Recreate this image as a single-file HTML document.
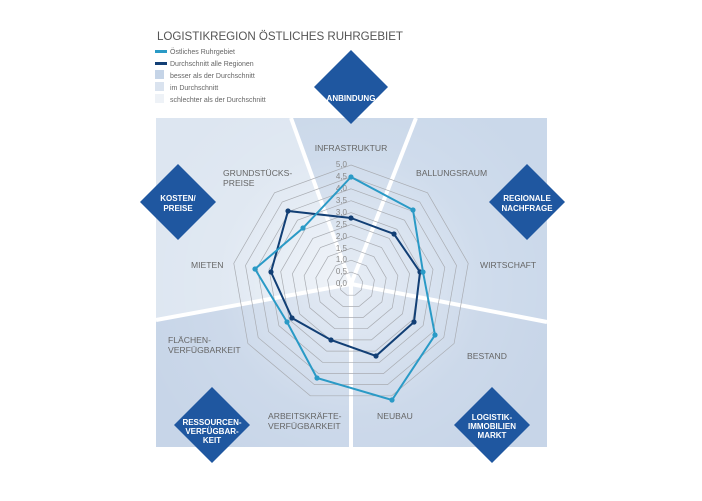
<!DOCTYPE html>
<html><head><meta charset="utf-8"><style>
body{margin:0;background:#fff;width:702px;height:496px;overflow:hidden;font-family:"Liberation Sans",sans-serif}
</style></head><body>
<svg id="s" width="702" height="496" viewBox="0 0 702 496" xmlns="http://www.w3.org/2000/svg" font-family="Liberation Sans, sans-serif">
<defs>
<radialGradient id="rg" cx="351" cy="284" r="220" gradientUnits="userSpaceOnUse">
<stop offset="0" stop-color="#fff" stop-opacity="0.55"/><stop offset="0.6" stop-color="#fff" stop-opacity="0.1"/><stop offset="1" stop-color="#fff" stop-opacity="0"/>
</radialGradient>
</defs>
<text x="157" y="40" font-size="11.6" fill="#555" textLength="246">LOGISTIKREGION ÖSTLICHES RUHRGEBIET</text>
<rect x="155" y="50" width="12" height="3" fill="#2a9ac6"/>
<rect x="155" y="62" width="12" height="3" fill="#123f75"/>
<rect x="155" y="70" width="9" height="9" fill="#c5d4e7"/>
<rect x="155" y="82" width="9" height="9" fill="#dae3ef"/>
<rect x="155" y="94" width="9" height="9" fill="#eef2f7"/>
<g font-size="7" fill="#666">
<text x="170" y="54">Östliches Ruhrgebiet</text>
<text x="170" y="66">Durchschnitt alle Regionen</text>
<text x="170" y="78">besser als der Durchschnitt</text>
<text x="170" y="90">im Durchschnitt</text>
<text x="170" y="102">schlechter als der Durchschnitt</text>
</g>
<polygon points="351,284 291,118 156,118 156,320" fill="#dde6f1"/>
<polygon points="351,284 291,118 416,118" fill="#c9d7e9"/>
<polygon points="351,284 416,118 547,118 547,322" fill="#cad8ea"/>
<polygon points="351,284 547,322 547,447 351,447" fill="#c7d5e8"/>
<polygon points="351,284 351,447 156,447 156,320" fill="#c7d5e8"/>
<rect x="156" y="118" width="391" height="329" fill="url(#rg)"/>
<g stroke="#fff" stroke-width="4">
<line x1="351" y1="284" x2="291" y2="118"/>
<line x1="351" y1="284" x2="416" y2="118"/>
<line x1="351" y1="284" x2="547" y2="322"/>
<line x1="351" y1="284" x2="351" y2="447"/>
<line x1="351" y1="284" x2="156" y2="320"/>
</g>
<g id="rings" fill="none" stroke="#a9acb2" stroke-width="0.7"></g>
<g font-size="8" fill="#888" text-anchor="end">
<text x="347" y="167">5,0</text><text x="347" y="179">4,5</text><text x="347" y="191">4,0</text><text x="347" y="203">3,5</text><text x="347" y="215">3,0</text><text x="347" y="227">2,5</text><text x="347" y="239">2,0</text><text x="347" y="251">1,5</text><text x="347" y="262">1,0</text><text x="347" y="274">0,5</text><text x="347" y="286">0,0</text>
</g>
<polyline points="351,218 394,234 420,272 414,322 376,356 331,340 292,318 271,272 288,211 351,218" fill="none" stroke="#123f75" stroke-width="2"/>
<polyline points="351,177 413,210 423,272 435,335 392,400 317,378 287,322 255,269 303,228 351,177" fill="none" stroke="#2a9ac6" stroke-width="2"/>
<g fill="#123f75"><circle cx="351" cy="218" r="2.6"/><circle cx="394" cy="234" r="2.6"/><circle cx="420" cy="272" r="2.6"/><circle cx="414" cy="322" r="2.6"/><circle cx="376" cy="356" r="2.6"/><circle cx="331" cy="340" r="2.6"/><circle cx="292" cy="318" r="2.6"/><circle cx="271" cy="272" r="2.6"/><circle cx="288" cy="211" r="2.6"/></g>
<g fill="#2a9ac6"><circle cx="351" cy="177" r="2.6"/><circle cx="413" cy="210" r="2.6"/><circle cx="423" cy="272" r="2.6"/><circle cx="435" cy="335" r="2.6"/><circle cx="392" cy="400" r="2.6"/><circle cx="317" cy="378" r="2.6"/><circle cx="287" cy="322" r="2.6"/><circle cx="255" cy="269" r="2.6"/><circle cx="303" cy="228" r="2.6"/></g>
<g font-size="8.6" fill="#666">
<text x="351" y="151" text-anchor="middle">INFRASTRUKTUR</text>
<text x="416" y="176">BALLUNGSRAUM</text>
<text x="480" y="268">WIRTSCHAFT</text>
<text x="467" y="359">BESTAND</text>
<text x="377" y="419">NEUBAU</text>
<text x="268" y="419">ARBEITSKRÄFTE-</text>
<text x="268" y="429">VERFÜGBARKEIT</text>
<text x="168" y="343">FLÄCHEN-</text>
<text x="168" y="353">VERFÜGBARKEIT</text>
<text x="191" y="268">MIETEN</text>
<text x="223" y="176">GRUNDSTÜCKS-</text>
<text x="223" y="186">PREISE</text>
</g>
<g fill="#1f57a0">
<polygon points="351,50 388,87 351,124 314,87"/>
<polygon points="178,164 216,202 178,240 140,202"/>
<polygon points="527,164 565,202 527,240 489,202"/>
<polygon points="212,387 250,425 212,463 174,425"/>
<polygon points="492,387 530,425 492,463 454,425"/>
</g>
<g font-size="8" fill="#fff" font-weight="bold" text-anchor="middle">
<text x="351" y="101">ANBINDUNG</text>
<text x="178" y="201">KOSTEN/</text><text x="178" y="211">PREISE</text>
<text x="527" y="201">REGIONALE</text><text x="527" y="211">NACHFRAGE</text>
<text x="212" y="425">RESSOURCEN-</text><text x="212" y="434">VERFÜGBAR-</text><text x="212" y="443">KEIT</text>
<text x="492" y="420">LOGISTIK-</text><text x="492" y="429">IMMOBILIEN</text><text x="492" y="438">MARKT</text>
</g>
</svg>
<script>
var g=document.getElementById('rings'),cx=351,cy=284,u=23.8;
for(var k=1;k<=10;k++){var r=k*0.5*u,p=[];for(var i=0;i<9;i++){var a=i*40*Math.PI/180;p.push((cx+r*Math.sin(a)).toFixed(1)+','+(cy-r*Math.cos(a)).toFixed(1));}
var e=document.createElementNS('http://www.w3.org/2000/svg','polygon');e.setAttribute('points',p.join(' '));g.appendChild(e);}
</script>
</body></html>
